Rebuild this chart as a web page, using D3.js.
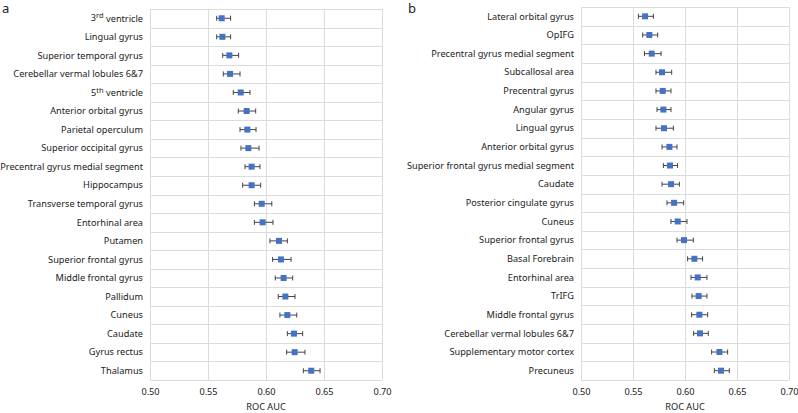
<!DOCTYPE html>
<html><head><meta charset="utf-8">
<script src="https://cdn.jsdelivr.net/npm/d3@7"></script>
<style>body{margin:0;background:#fff;} text{font-family:"Noto Sans",sans-serif;fill:#222;}</style>
</head><body><svg id="c" width="798" height="413"></svg>
<script>
const labelsA = ["3rd ventricle","Lingual gyrus","Superior temporal gyrus","Cerebellar vermal lobules 6&7","5th ventricle","Anterior orbital gyrus","Parietal operculum","Superior occipital gyrus","Precentral gyrus medial segment","Hippocampus","Transverse temporal gyrus","Entorhinal area","Putamen","Superior frontal gyrus","Middle frontal gyrus","Pallidum","Cuneus","Caudate","Gyrus rectus","Thalamus"];
const aucA = [0.5618,0.5624,0.5684,0.5690,0.5782,0.5833,0.5839,0.5848,0.5876,0.5876,0.5963,0.5971,0.6112,0.6129,0.6152,0.6167,0.6184,0.6241,0.6247,0.6390];
const lowA = [0.5575,0.5575,0.5627,0.5632,0.5718,0.5761,0.5776,0.5784,0.5819,0.5799,0.5900,0.5900,0.6034,0.6057,0.6080,0.6106,0.6120,0.6184,0.6178,0.6322];
const highA = [0.5695,0.5695,0.5764,0.5776,0.5862,0.5911,0.5914,0.5940,0.5948,0.5954,0.6050,0.6060,0.6184,0.6216,0.6230,0.6250,0.6265,0.6316,0.6336,0.6466];

const labelsB = ["Lateral orbital gyrus","OpIFG","Precentral gyrus medial segment","Subcallosal area","Precentral gyrus","Angular gyrus","Lingual gyrus","Anterior orbital gyrus","Superior frontal gyrus medial segment","Caudate","Posterior cingulate gyrus","Cuneus","Superior frontal gyrus","Basal Forebrain","Entorhinal area","TrIFG","Middle frontal gyrus","Cerebellar vermal lobules 6&7","Supplementary motor cortex","Precuneus"];
const aucB = [0.5616,0.5657,0.5680,0.5779,0.5786,0.5792,0.5798,0.5850,0.5856,0.5866,0.5895,0.5930,0.5990,0.6090,0.6122,0.6131,0.6138,0.6144,0.6331,0.6346];
const lowB = [0.5552,0.5593,0.5610,0.5721,0.5721,0.5731,0.5721,0.5779,0.5792,0.5779,0.5827,0.5865,0.5923,0.6025,0.6058,0.6067,0.6064,0.6083,0.6256,0.6282];
const highB = [0.5696,0.5737,0.5770,0.5872,0.5865,0.5865,0.5888,0.5923,0.5929,0.5946,0.5987,0.6019,0.6080,0.6169,0.6211,0.6211,0.6218,0.6224,0.6410,0.6426];

const ticks = [0.50,0.55,0.60,0.65,0.70];
const axisTitle = "ROC AUC";
const panelLetters = ["a","b"];

const svg = d3.select("#c");
const FS = "9.2px";

function panel(letter, labels, auc, low, high, x0, x1, y0, y1, letterX) {
  const g = svg.append("g");
  const x = d3.scaleLinear().domain([0.5,0.7]).range([x0,x1]);
  const y = d3.scaleBand().domain(labels).range([y0,y1]);
  g.selectAll("line.h").data(d3.range(labels.length+1)).join("line")
    .attr("x1",x0).attr("x2",x1)
    .attr("y1",i=>Math.round(y0+i*y.step())+0.5).attr("y2",i=>Math.round(y0+i*y.step())+0.5)
    .attr("stroke","#dcdcdc").attr("stroke-width",1);
  g.selectAll("line.v").data(ticks).join("line")
    .attr("x1",d=>Math.round(x(d))+0.5).attr("x2",d=>Math.round(x(d))+0.5).attr("y1",y0).attr("y2",y1)
    .attr("stroke","#dcdcdc").attr("stroke-width",1);
  const ax = g.append("g").attr("transform",`translate(0,${y1})`)
    .call(d3.axisBottom(x).tickValues(ticks).tickFormat(d3.format(".2f")).tickSize(0).tickPadding(8));
  ax.select(".domain").remove();
  ax.selectAll("text").style("font-family","'Noto Sans',sans-serif").style("font-size",FS).attr("fill","#222");
  g.append("text").attr("x",(x0+x1)/2).attr("y",y1+30).attr("text-anchor","middle")
    .style("font-size",FS).text(axisTitle);
  g.selectAll("text.lab").data(labels).join("text")
    .attr("x",x0-7).attr("y",d=>y(d)+y.bandwidth()/2).attr("dy","0.35em")
    .attr("text-anchor","end").style("font-size",FS)
    .each(function(d){
      const t = d3.select(this);
      const m = d.match(/^(\d)(rd|th)( .*)$/);
      if (m) {
        t.append("tspan").text(m[1]);
        t.append("tspan").attr("dy","-0.4em").style("font-size","7.5px").text(m[2]);
        t.append("tspan").attr("dy","0.4em").text(m[3]);
      } else t.text(d);
    });
  const rows = labels.map((l,i)=>({l, v:auc[i], lo:low[i], hi:high[i]}));
  const eb = g.selectAll("g.eb").data(rows).join("g").attr("transform",d=>`translate(0,${y(d.l)+y.bandwidth()/2})`);
  eb.append("line").attr("x1",d=>x(d.lo)).attr("x2",d=>x(d.hi)).attr("stroke","#444").attr("stroke-width",1);
  eb.append("line").attr("x1",d=>x(d.lo)).attr("x2",d=>x(d.lo)).attr("y1",-2.5).attr("y2",2.5).attr("stroke","#444");
  eb.append("line").attr("x1",d=>x(d.hi)).attr("x2",d=>x(d.hi)).attr("y1",-2.5).attr("y2",2.5).attr("stroke","#444");
  eb.append("rect").attr("x",d=>x(d.v)-3).attr("y",-3).attr("width",6).attr("height",6).attr("fill","#4472c4");
  svg.append("text").attr("x",letterX).attr("y",13).style("font-size","13px").text(letter);
}

panel(panelLetters[0], labelsA, aucA, lowA, highA, 150, 382, 9, 380, 2);
panel(panelLetters[1], labelsB, aucB, lowB, highB, 581, 789, 7, 380, 408);
</script></body></html>
